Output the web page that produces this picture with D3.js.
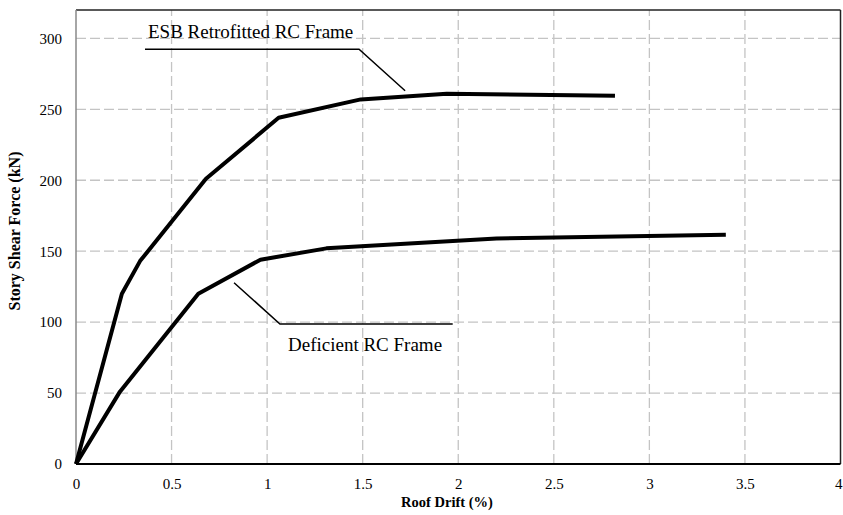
<!DOCTYPE html>
<html>
<head>
<meta charset="utf-8">
<script src="https://cdn.jsdelivr.net/npm/d3@7"></script>
<style>
  body { margin: 0; background: #fff; }
  svg, svg text { font-family: "Liberation Serif", "Times New Roman", serif; }
  svg { display: block; }
</style>
</head>
<body>
<div id="chart"></div>
<script>
// pushover curves
const esbDrift = [0, 0.24, 0.335, 0.68, 1.06, 1.49, 1.94, 2.82];
const esbShear = [0, 120, 143, 201, 244, 257, 261, 259.5];
const defDrift = [0, 0.23, 0.64, 0.965, 1.31, 2.2, 3.4];
const defShear = [0, 51, 120, 144, 152, 159, 161.5];

const xTicks = [0, 0.5, 1, 1.5, 2, 2.5, 3, 3.5, 4];
const yTicks = [0, 50, 100, 150, 200, 250, 300];

// leader lines for the two labels, in data units
const esbLeader = [[0.361, 292.3], [1.481, 292.3], [1.722, 263.1]];
const defLeader = [[0.827, 127.8], [1.067, 98.7], [1.971, 98.7]];

const W = 843, H = 515;
const margin = { top: 10, right: 2.5, bottom: 51, left: 76 };

const svg = d3.select("#chart").append("svg")
  .attr("width", W).attr("height", H);

const x = d3.scaleLinear().domain([0, 4]).range([margin.left, W - margin.right]);
const y = d3.scaleLinear().domain([0, 320]).range([H - margin.bottom, margin.top]);

// grid
svg.append("g").selectAll("line")
  .data(yTicks.filter(d => d > 0))
  .enter().append("line")
  .attr("x1", x(0)).attr("x2", x(4))
  .attr("y1", d => y(d)).attr("y2", d => y(d))
  .attr("stroke", "#c4c4c4").attr("stroke-width", 1.3)
  .attr("stroke-dasharray", "10,4");

svg.append("g").selectAll("line")
  .data(xTicks.filter(d => d > 0 && d < 4))
  .enter().append("line")
  .attr("x1", d => x(d)).attr("x2", d => x(d))
  .attr("y1", y(0)).attr("y2", y(320))
  .attr("stroke", "#c4c4c4").attr("stroke-width", 1.3)
  .attr("stroke-dasharray", "10,4");

// frame
svg.append("line")
  .attr("x1", x(0)).attr("x2", x(4)).attr("y1", y(320)).attr("y2", y(320))
  .attr("stroke", "#222").attr("stroke-width", 1.3);
svg.append("line")
  .attr("x1", x(4)).attr("x2", x(4)).attr("y1", y(0)).attr("y2", y(320))
  .attr("stroke", "#222").attr("stroke-width", 1.5);
svg.append("line")
  .attr("x1", x(0)).attr("x2", x(0)).attr("y1", y(0)).attr("y2", y(320))
  .attr("stroke", "#888").attr("stroke-width", 1.5);

// axes (labels only, lines drawn above)
const xAxis = svg.append("g")
  .attr("transform", "translate(0," + y(0) + ")")
  .call(d3.axisBottom(x).tickValues(xTicks).tickSize(0).tickPadding(0).tickFormat(d3.format("")));
xAxis.select(".domain").remove();
xAxis.attr("font-family", null);
xAxis.selectAll("text")
  .attr("dy", null).attr("y", 25)
  .attr("font-size", 15).attr("fill", "#000");
// last label would be clipped by the page edge, keep it inside
xAxis.selectAll("text").filter(d => d === 4)
  .attr("text-anchor", "end").attr("x", W - 1 - x(4));

const yAxis = svg.append("g")
  .attr("transform", "translate(" + x(0) + ",0)")
  .call(d3.axisLeft(y).tickValues(yTicks).tickSize(0).tickPadding(14));
yAxis.select(".domain").remove();
yAxis.attr("font-family", null);
yAxis.selectAll("text")
  .attr("font-size", 15).attr("fill", "#000");

svg.append("line")
  .attr("x1", x(0)).attr("x2", x(4)).attr("y1", y(0)).attr("y2", y(0))
  .attr("stroke", "#000").attr("stroke-width", 2);

// axis titles
svg.append("text")
  .attr("x", 447).attr("y", 507)
  .attr("text-anchor", "middle")
  .attr("font-weight", "bold").attr("font-size", 14.5)
  .text("Roof Drift (%)");

svg.append("text")
  .attr("transform", "translate(20,231) rotate(-90)")
  .attr("text-anchor", "middle")
  .attr("font-weight", "bold").attr("font-size", 16)
  .text("Story Shear Force (kN)");

// curves
const line = d3.line().x(d => x(d[0])).y(d => y(d[1]));

svg.append("path")
  .datum(esbDrift.map((d, i) => [d, esbShear[i]]))
  .attr("d", line)
  .attr("fill", "none").attr("stroke", "#000").attr("stroke-width", 4)
  .attr("stroke-linejoin", "round");

svg.append("path")
  .datum(defDrift.map((d, i) => [d, defShear[i]]))
  .attr("d", line)
  .attr("fill", "none").attr("stroke", "#000").attr("stroke-width", 4)
  .attr("stroke-linejoin", "round");

// labels with leader lines
[esbLeader, defLeader].forEach(function (pts) {
  svg.append("path")
    .datum(pts)
    .attr("d", line)
    .attr("fill", "none").attr("stroke", "#000").attr("stroke-width", 1.5);
});

svg.append("text")
  .attr("x", 148).attr("y", 38)
  .attr("font-size", 19)
  .text("ESB Retrofitted RC Frame");

svg.append("text")
  .attr("x", 288).attr("y", 351)
  .attr("font-size", 19)
  .text("Deficient RC Frame");
</script>
</body>
</html>
